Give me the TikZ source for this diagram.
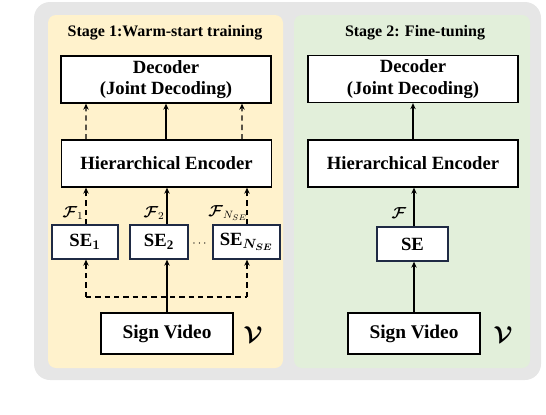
\documentclass[tikz,border=0pt]{standalone}
\usepackage{fontspec}
\usepackage{amsmath}
\usepackage{bm}
\setmainfont{Liberation Serif}
\usetikzlibrary{arrows.meta}
\definecolor{outerbg}{HTML}{E6E6E6}
\definecolor{creambg}{HTML}{FFF2CC}
\definecolor{greenbg}{HTML}{E2EFDA}
\definecolor{navy}{HTML}{1F2A44}
\tikzset{
  box/.style={draw=black, line width=1pt, fill=white, align=center, inner sep=0pt,
    font=\fontsize{14}{16}\selectfont\bfseries},
  wide/.style={box, minimum width=157.5pt, minimum height=35.25pt},
  sebox/.style={box, draw=navy, minimum height=25.5pt, font=\fontsize{14}{16}\selectfont\bfseries},
  svbox/.style={box, minimum width=99pt, minimum height=30.75pt, font=\fontsize{14.5}{16}\selectfont\bfseries},
  title/.style={font=\fontsize{12}{14}\selectfont\bfseries},
  arr/.style={line width=1pt, -{Stealth[length=4.5pt,width=4pt]}},
  dsh/.style={line width=1pt, dash pattern=on 4pt off 3pt},
  flab/.style={font=\fontsize{12}{14}\selectfont, inner sep=0pt},
  vlab/.style={font=\fontsize{16}{18}\selectfont, inner sep=0pt}
}
\begin{document}
\begin{tikzpicture}[x=0.75pt,y=-0.75pt]
\useasboundingbox (0,0) rectangle (546,414);
% backgrounds
\fill[outerbg, rounded corners=12pt] (34,2) rectangle (541,380);
\fill[creambg, rounded corners=6pt] (48,15) rectangle (283,368);
\fill[greenbg, rounded corners=6pt] (294,15) rectangle (530,368);
% titles
\node[title] (t1) at (165,33) {Stage 1:Warm-start training};
\node[title] (t2) at (415,33) {Stage 2: Fine-tuning};
% ---- left panel
\node[wide] (dec1) at (166,79.5) {Decoder\\(Joint Decoding)};
\node[wide] (he1) at (166.5,163.5) {Hierarchical Encoder};
\node[sebox, minimum width=49.5pt] (se1) at (85,242) {SE$_{\bm{1}}$};
\node[sebox, minimum width=43.5pt] (se2) at (159,242) {SE$_{\mathbf{2}}$};
\node[sebox, minimum width=50.25pt] (seN) at (246.5,242) {SE$_{\bm{N_{SE}}}$};
\node[font=\fontsize{9}{10}\selectfont, inner sep=0pt] (dots) at (200.5,244) {$\cdots$};
\node[svbox] (sv1) at (167,333.5) {Sign Video};
\node[vlab] (v1) at (253,335) {$\bm{\mathcal{V}}$};
\coordinate (b1) at (86,297);
\coordinate (b2) at (247,297);
\coordinate (c1) at (167,297);
% arrows he -> dec
\draw[dsh, arr] ([xshift=-60.4pt]he1.north) -- ([xshift=-60pt]dec1.south);
\draw[arr] (he1.north -| dec1.south) -- (dec1.south);
\draw[dsh, arr] ([xshift=56.6pt]he1.north) -- ([xshift=57pt]dec1.south);
% se -> he
\draw[dsh, arr] (b1 |- se1.north) -- (b1 |- he1.south);
\draw[arr] (c1 |- se2.north) -- (c1 |- he1.south);
\draw[dsh, arr] (b2 |- seN.north) -- (b2 |- he1.south);
\node[flab] (f1) at (73,213) {$\bm{\mathcal{F}}_{1}$};
\node[flab] (f2) at (154,213) {$\bm{\mathcal{F}}_{2}$};
\node[flab] (fN) at (228,213) {$\bm{\mathcal{F}}_{N_{SE}}$};
% bus
\draw[dsh] (b1) -- (b2);
\draw[dsh, arr] (b1) -- (b1 |- se1.south);
\draw[dsh, arr] (b2) -- (b2 |- seN.south);
\draw[arr] (sv1.north) -- (sv1.north |- se2.south);
% ---- right panel
\node[wide] (dec2) at (413,79) {Decoder\\(Joint Decoding)};
\node[wide] (he2) at (413,163.5) {Hierarchical Encoder};
\node[sebox, minimum width=53.25pt] (se) at (412.5,244) {SE};
\node[svbox] (sv2) at (414,333.5) {Sign Video};
\node[vlab] (v2) at (503,335) {$\bm{\mathcal{V}}$};
\node[flab] (f) at (399,213) {$\bm{\mathcal{F}}$};
\draw[arr] (he2.north) -- (dec2.south);
\draw[arr] (se.north -| sv2.north) -- (he2.south -| sv2.north);
\draw[arr] (sv2.north) -- (sv2.north |- se.south);
\end{tikzpicture}
\end{document}
